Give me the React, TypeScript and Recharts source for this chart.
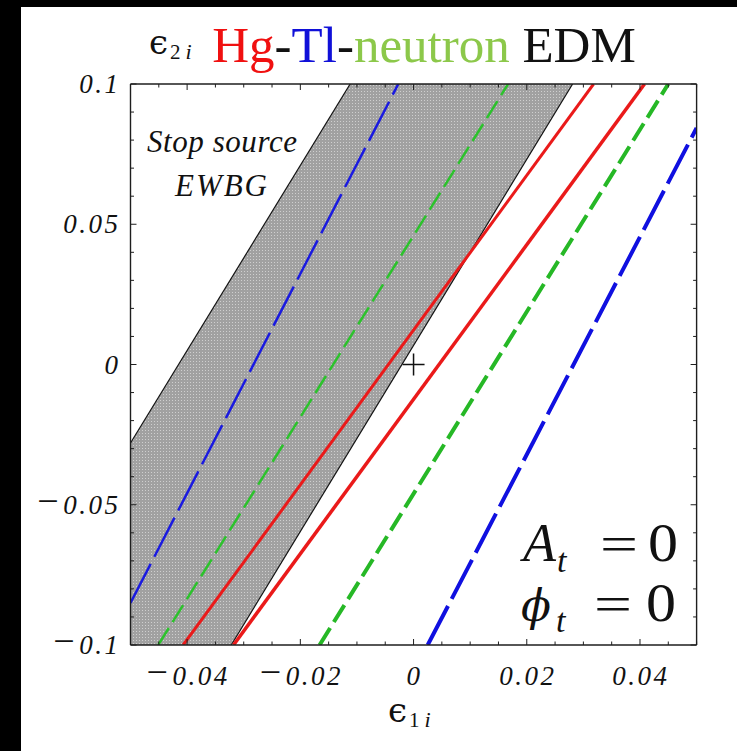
import { ComposedChart, Area, Line, Scatter, XAxis, YAxis } from 'recharts';

// axis ticks
const xMajor = [-0.04, -0.02, 0, 0.02, 0.04];
const xTicks = [
  -0.05, -0.045, -0.04, -0.035, -0.03, -0.025, -0.02, -0.015, -0.01, -0.005, 0,
  0.005, 0.01, 0.015, 0.02, 0.025, 0.03, 0.035, 0.04, 0.045, 0.05,
];
const yMajor = [-0.1, -0.05, 0, 0.05, 0.1];
const yTicks = [
  -0.1, -0.09, -0.08, -0.07, -0.06, -0.05, -0.04, -0.03, -0.02, -0.01, 0,
  0.01, 0.02, 0.03, 0.04, 0.05, 0.06, 0.07, 0.08, 0.09, 0.1,
];

// stop source EWBG band (corners of the shaded region)
const bandX = [-0.05, -0.0322, -0.0112, 0.0281];
const bandLow = [-0.1, -0.1, -0.0303, 0.1];
const bandHigh = [-0.028, 0.0307, 0.1, 0.1];

// band edges
const edgeLeftX = [-0.05, -0.0112];
const edgeLeftY = [-0.028, 0.1];
const edgeRightX = [-0.0322, 0.0281];
const edgeRightY = [-0.1, 0.1];

// Hg EDM (red)
const hgInnerX = [-0.0407, 0.0318];
const hgInnerY = [-0.1, 0.1];
const hgOuterX = [-0.0318, 0.0408];
const hgOuterY = [-0.1, 0.1];

// neutron EDM (green)
const nInnerX = [-0.0451, 0.0167];
const nInnerY = [-0.1, 0.1];
const nOuterX = [-0.0166, 0.045];
const nOuterY = [-0.1, 0.1];

// Tl EDM (blue)
const tlInnerX = [-0.05, -0.0027];
const tlInnerY = [-0.085, 0.1];
const tlOuterX = [0.0025, 0.05];
const tlOuterY = [-0.1, 0.0843];

const origin = [{ x: 0, y: 0 }];

const pts = (xs: number[], ys: number[]) => xs.map((x, i) => ({ x, y: ys[i] }));
const bandData = bandX.map((x, i) => ({ x, range: [bandLow[i], bandHigh[i]] }));

const serif = 'Liberation Serif, DejaVu Serif, serif';
const frame = '#1e1e1e';
const tickFont = { fontFamily: serif, fontStyle: 'italic', fontSize: 27, letterSpacing: 2.5 };

// tick label with a long upright minus, like the TeX one
const TickText = ({ v, x, y, anchor }: { v: number; x: number; y: number; anchor: string }) => (
  <text x={x} y={y} textAnchor={anchor} style={tickFont} fill="#111">
    {v < 0 && <tspan style={{ fontStyle: 'normal', fontSize: 38 }}>{'\u2212'}</tspan>}
    <tspan dx={v < 0 ? 2 : 0}>{v === 0 ? '0' : String(Math.abs(v))}</tspan>
  </text>
);

const BottomTick = (p: any) => {
  const major = xMajor.includes(p.payload.value);
  return (
    <g>
      <line x1={p.x} x2={p.x} y1={p.y} y2={p.y - (major ? 6 : 3.5)} stroke={frame} strokeWidth={1} />
      {major && <TickText v={p.payload.value} x={p.x + 1} y={p.y + 40} anchor="middle" />}
    </g>
  );
};

const TopTick = (p: any) => {
  const major = xMajor.includes(p.payload.value);
  return <line x1={p.x} x2={p.x} y1={p.y} y2={p.y + (major ? 6 : 3.5)} stroke={frame} strokeWidth={1} />;
};

const LeftTick = (p: any) => {
  const major = yMajor.includes(p.payload.value);
  return (
    <g>
      <line x1={p.x} x2={p.x + (major ? 6 : 3.5)} y1={p.y} y2={p.y} stroke={frame} strokeWidth={1} />
      {major && <TickText v={p.payload.value} x={p.x - 10} y={p.y + 9} anchor="end" />}
    </g>
  );
};

const RightTick = (p: any) => {
  const major = yMajor.includes(p.payload.value);
  return <line x1={p.x} x2={p.x - (major ? 6 : 3.5)} y1={p.y} y2={p.y} stroke={frame} strokeWidth={1} />;
};

const Cross = (p: any) => (
  <path d={`M${p.cx - 11},${p.cy}H${p.cx + 11}M${p.cx},${p.cy - 11}V${p.cy + 11}`} stroke="#111" strokeWidth={1.5} fill="none" />
);

const Eps = ({ x, y, sub }: { x: number; y: number; sub: string }) => (
  <text x={x} y={y} fill="#111" style={{ fontFamily: serif }}>
    <tspan style={{ fontFamily: 'DejaVu Serif, serif', fontSize: 34 }}>{'\u03f5'}</tspan>
    <tspan style={{ fontFamily: serif, fontSize: 21 }} dy={5} dx={2}>{sub}</tspan>
    <tspan style={{ fontFamily: serif, fontSize: 22, fontStyle: 'italic' }} dx={5}>i</tspan>
  </text>
);

const titleFont = { fontFamily: serif, fontSize: 51 };

export default function App() {
  return (
    <div style={{ position: 'absolute', left: 0, top: 0, width: 737, height: 751, background: '#fff', overflow: 'hidden' }}>
      <svg width={0} height={0} style={{ position: 'absolute' }}>
        <defs>
          <pattern id="stipple" width={3} height={3} patternUnits="userSpaceOnUse">
            <rect width={3} height={3} fill="#a1a1a1" />
            <rect x={1} y={1} width={1} height={1} fill="#cfcfcf" />
          </pattern>
        </defs>
      </svg>
      <div style={{ position: 'absolute', left: 0, top: 0, width: 21, height: 751, background: '#000' }} />
      <div style={{ position: 'absolute', left: 0, top: 0, width: 737, height: 7, background: '#000' }} />
      <div style={{ position: 'absolute', left: 0, top: 0 }}>
        <ComposedChart width={737} height={751} margin={{ top: 83, right: 39.4, bottom: 105, left: 129.5 }}>
          <XAxis xAxisId="b" type="number" dataKey="x" domain={[-0.05, 0.05]} ticks={xTicks} interval={0}
            allowDataOverflow height={1} tickSize={0} tickMargin={0} tick={BottomTick}
            axisLine={{ stroke: frame, strokeWidth: 1.4 }} tickLine={false} />
          <XAxis xAxisId="t" orientation="top" type="number" dataKey="x" domain={[-0.05, 0.05]} ticks={xTicks} interval={0}
            allowDataOverflow height={1} tickSize={0} tickMargin={0} tick={TopTick}
            axisLine={{ stroke: frame, strokeWidth: 1.4 }} tickLine={false} />
          <YAxis yAxisId="l" type="number" domain={[-0.1, 0.1]} ticks={yTicks} interval={0}
            allowDataOverflow width={1} tickSize={0} tickMargin={0} tick={LeftTick}
            axisLine={{ stroke: frame, strokeWidth: 1.4 }} tickLine={false} />
          <YAxis yAxisId="r" orientation="right" type="number" domain={[-0.1, 0.1]} ticks={yTicks} interval={0}
            allowDataOverflow width={1} tickSize={0} tickMargin={0} tick={RightTick}
            axisLine={{ stroke: frame, strokeWidth: 1.4 }} tickLine={false} />

          <Area xAxisId="b" yAxisId="l" data={bandData} dataKey="range" type="linear" fill="url(#stipple)" fillOpacity={1}
            stroke="none" isAnimationActive={false} />
          <Line xAxisId="b" yAxisId="l" data={pts(edgeLeftX, edgeLeftY)} dataKey="y" type="linear" stroke="#111" strokeWidth={1.2} dot={false} isAnimationActive={false} />
          <Line xAxisId="b" yAxisId="l" data={pts(edgeRightX, edgeRightY)} dataKey="y" type="linear" stroke="#111" strokeWidth={1.2} dot={false} isAnimationActive={false} />

          <Line xAxisId="b" yAxisId="l" data={pts(tlInnerX, tlInnerY)} dataKey="y" type="linear" stroke="#1a1ae0" strokeWidth={2.5} strokeDasharray="44 8" dot={false} isAnimationActive={false} />
          <Line xAxisId="b" yAxisId="l" data={pts(tlOuterX, tlOuterY)} dataKey="y" type="linear" stroke="#1010e0" strokeWidth={4} strokeDasharray="44 8" dot={false} isAnimationActive={false} />

          <Line xAxisId="b" yAxisId="l" data={pts(nInnerX, nInnerY)} dataKey="y" type="linear" stroke="#2cc22c" strokeWidth={2.5} strokeDasharray="20 7" dot={false} isAnimationActive={false} />
          <Line xAxisId="b" yAxisId="l" data={pts(nOuterX, nOuterY)} dataKey="y" type="linear" stroke="#26b826" strokeWidth={4} strokeDasharray="20 7" dot={false} isAnimationActive={false} />

          <Line xAxisId="b" yAxisId="l" data={pts(hgInnerX, hgInnerY)} dataKey="y" type="linear" stroke="#ea1a1a" strokeWidth={3} dot={false} isAnimationActive={false} />
          <Line xAxisId="b" yAxisId="l" data={pts(hgOuterX, hgOuterY)} dataKey="y" type="linear" stroke="#ea1a1a" strokeWidth={3.5} dot={false} isAnimationActive={false} />

          <Scatter xAxisId="b" yAxisId="l" data={origin} dataKey="y" shape={Cross} isAnimationActive={false} />
        </ComposedChart>
      </div>
      <svg width={737} height={751} style={{ position: 'absolute', left: 0, top: 0, pointerEvents: 'none', fontFamily: serif }}>
        <text x={424} y={62} textAnchor="middle" style={titleFont}>
          <tspan style={titleFont} fill="#f01010">Hg</tspan>
          <tspan style={titleFont} fill="#111">-</tspan>
          <tspan style={titleFont} fill="#1010d8">Tl</tspan>
          <tspan style={titleFont} fill="#111">-</tspan>
          <tspan style={titleFont} fill="#8cc84a">neutron</tspan>
          <tspan style={titleFont} fill="#111"> EDM</tspan>
        </text>
        <Eps x={149} y={54} sub="2" />
        <Eps x={388} y={722} sub="1" />
        <text x={222} y={152} textAnchor="middle" style={{ fontFamily: serif, fontStyle: 'italic', fontSize: 31 }} textLength={150} fill="#111">Stop source</text>
        <text x={221} y={196} textAnchor="middle" style={{ fontFamily: serif, fontStyle: 'italic', fontSize: 31 }} textLength={92} fill="#111">EWBG</text>
        <g fill="#111">
          <text x={523} y={561} style={{ fontFamily: serif, fontSize: 54, fontStyle: 'italic' }}>A</text>
          <text x={557} y={572} style={{ fontFamily: serif, fontSize: 34, fontStyle: 'italic' }}>t</text>
          <text x={600} y={561} style={{ fontFamily: serif, fontSize: 50 }} textLength={38} lengthAdjust="spacingAndGlyphs">=</text>
          <text x={648} y={561} style={{ fontFamily: serif, fontSize: 54 }} textLength={30} lengthAdjust="spacingAndGlyphs">0</text>
          <text x={521} y={621} style={{ fontFamily: 'DejaVu Serif, serif', fontSize: 44, fontStyle: 'italic' }}>{'\u03d5'}</text>
          <text x={556} y={632} style={{ fontFamily: serif, fontSize: 34, fontStyle: 'italic' }}>t</text>
          <text x={594} y={621} style={{ fontFamily: serif, fontSize: 50 }} textLength={38} lengthAdjust="spacingAndGlyphs">=</text>
          <text x={646} y={621} style={{ fontFamily: serif, fontSize: 54 }} textLength={30} lengthAdjust="spacingAndGlyphs">0</text>
        </g>
      </svg>
    </div>
  );
}
